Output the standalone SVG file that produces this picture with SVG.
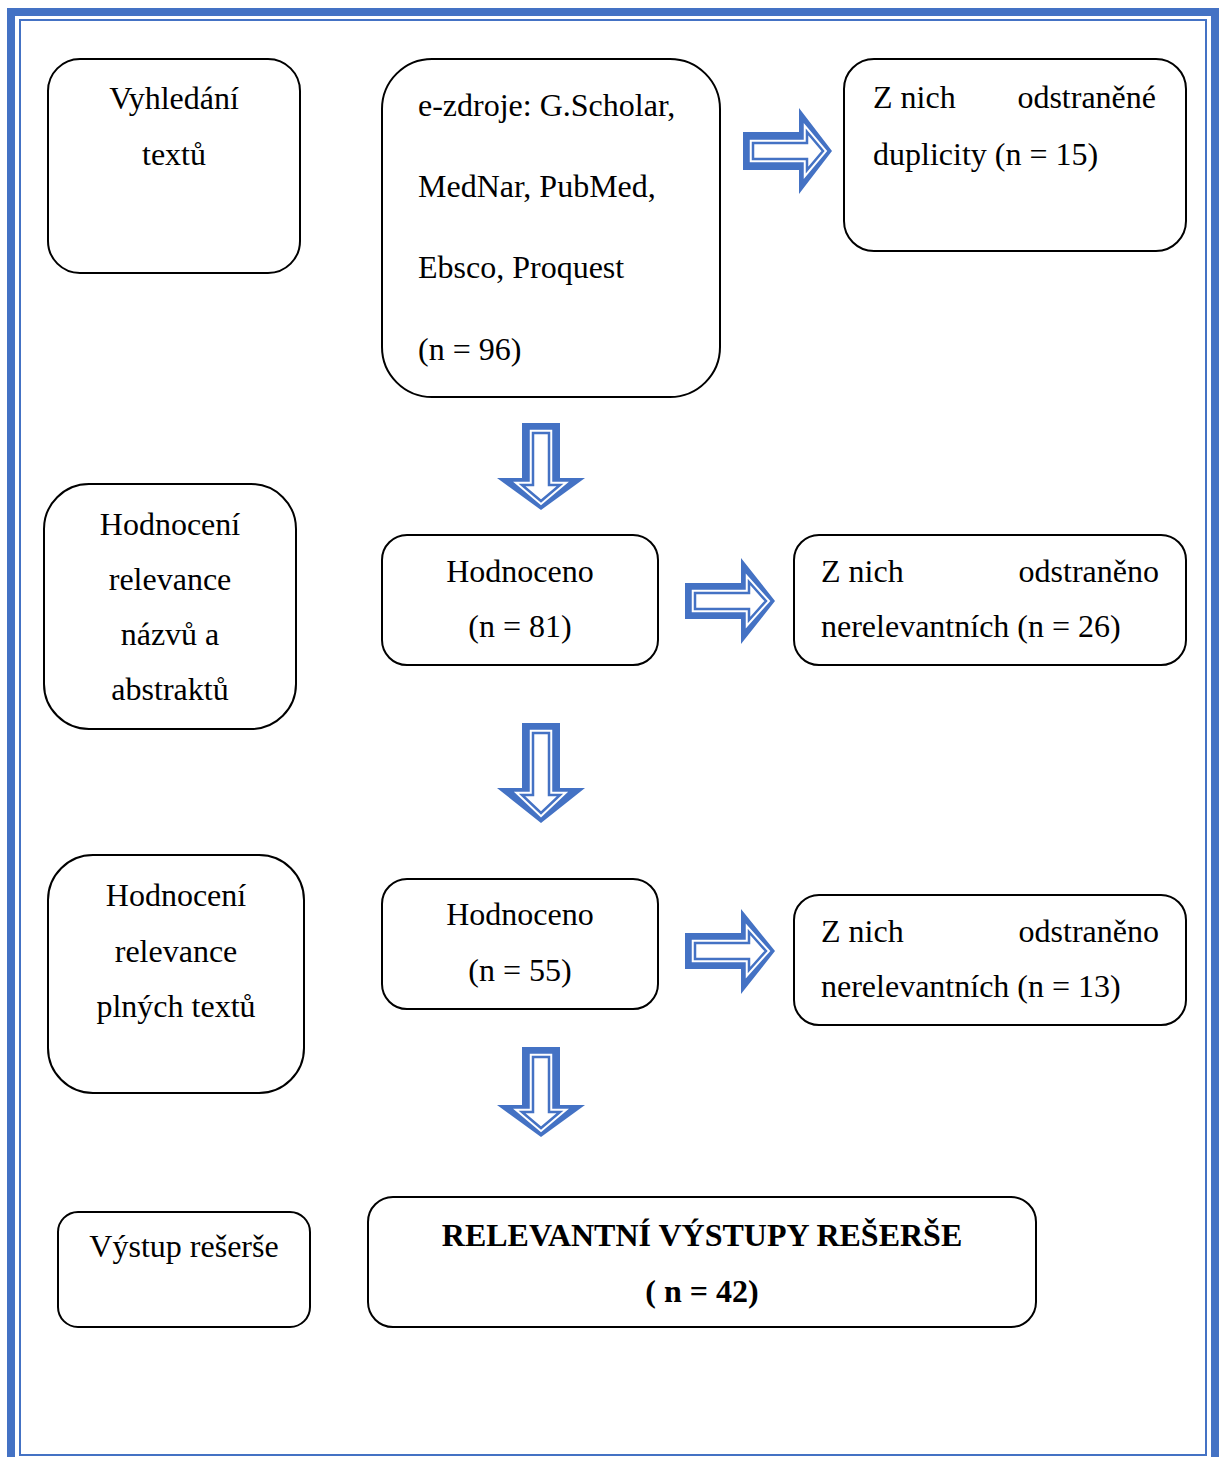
<svg xmlns="http://www.w3.org/2000/svg" width="1219" height="1457" viewBox="0 0 1219 1457">
<style>
.box{fill:#fff;stroke:#000;stroke-width:2}
.t{font-family:"Liberation Serif","Times New Roman",serif;font-size:32px;fill:#000}
.c{text-anchor:middle}
.e{text-anchor:end}
.b{font-weight:bold}
.ao{fill:#4472C4}
.ah{fill:none;stroke:#fff;stroke-width:6.5;stroke-linejoin:miter}
.ai{fill:#fff;stroke:#4472C4;stroke-width:2.5;stroke-linejoin:miter}
</style>
<rect x="0" y="0" width="1219" height="1457" fill="#fff"/>
<g id="frame">
<rect x="11" y="12" width="1204" height="1460" fill="none" stroke="#4472C4" stroke-width="8"/>
<rect x="20" y="20" width="1186" height="1435" fill="none" stroke="#4472C4" stroke-width="2"/>
</g>
<g id="connectors">
<g id="arrow-r1">
<path class="ao" d="M743,132 H799 V108 L832,151 L799,194 V170 H743 Z"/>
<path class="ah" d="M753,143 H807 V132 L823,151 L807,170 V159 H753 Z"/>
<path class="ai" d="M753,143 H807 V132 L823,151 L807,170 V159 H753 Z"/>
</g>
<g id="arrow-d1">
<path class="ao" d="M522,423 H560 V478 H585 L541,510 L497,478 H522 Z"/>
<path class="ah" d="M533,433 H549 V485 H560 L541,501 L522,485 H533 Z"/>
<path class="ai" d="M533,433 H549 V485 H560 L541,501 L522,485 H533 Z"/>
</g>
<g id="arrow-r2">
<path class="ao" d="M685,583 H741 V558 L775,601 L741,644 V619 H685 Z"/>
<path class="ah" d="M695,593 H749 V582 L766,601 L749,620 V609 H695 Z"/>
<path class="ai" d="M695,593 H749 V582 L766,601 L749,620 V609 H695 Z"/>
</g>
<g id="arrow-d2">
<path class="ao" d="M522,723 H560 V788 H585 L541,823 L497,788 H522 Z"/>
<path class="ah" d="M533,733 H549 V795 H560 L541,813 L522,795 H533 Z"/>
<path class="ai" d="M533,733 H549 V795 H560 L541,813 L522,795 H533 Z"/>
</g>
<g id="arrow-r3">
<path class="ao" d="M685,933 H741 V909 L775,951 L741,994 V969 H685 Z"/>
<path class="ah" d="M695,943 H749 V932 L766,951 L749,970 V959 H695 Z"/>
<path class="ai" d="M695,943 H749 V932 L766,951 L749,970 V959 H695 Z"/>
</g>
<g id="arrow-d3">
<path class="ao" d="M522,1047 H560 V1105 H585 L541,1137 L497,1105 H522 Z"/>
<path class="ah" d="M533,1057 H549 V1112 H560 L541,1128 L522,1112 H533 Z"/>
<path class="ai" d="M533,1057 H549 V1112 H560 L541,1128 L522,1112 H533 Z"/>
</g>
</g>
<g id="n-vyhledani">
<rect class="box" x="48" y="59" width="252" height="214" rx="32"/>
<text class="t c" x="174" y="109">Vyhledání</text>
<text class="t c" x="174" y="165">textů</text>
</g>
<g id="n-ezdroje">
<rect class="box" x="382" y="59" width="338" height="338" rx="50"/>
<text class="t" x="418" y="116">e-zdroje: G.Scholar,</text>
<text class="t" x="418" y="197">MedNar, PubMed,</text>
<text class="t" x="418" y="278">Ebsco, Proquest</text>
<text class="t" x="418" y="360">(n = 96)</text>
</g>
<g id="n-duplicity">
<rect class="box" x="844" y="59" width="342" height="192" rx="30"/>
<text class="t" x="873" y="108">Z nich</text>
<text class="t e" x="1156" y="108">odstraněné</text>
<text class="t" x="873" y="165">duplicity (n = 15)</text>
</g>
<g id="n-hodnoceni-nazvu">
<rect class="box" x="44" y="484" width="252" height="245" rx="45"/>
<text class="t c" x="170" y="535">Hodnocení</text>
<text class="t c" x="170" y="590">relevance</text>
<text class="t c" x="170" y="645">názvů a</text>
<text class="t c" x="170" y="700">abstraktů</text>
</g>
<g id="n-hodnoceno-81">
<rect class="box" x="382" y="535" width="276" height="130" rx="25"/>
<text class="t c" x="520" y="582">Hodnoceno</text>
<text class="t c" x="520" y="637">(n = 81)</text>
</g>
<g id="n-odstraneno-26">
<rect class="box" x="794" y="535" width="392" height="130" rx="25"/>
<text class="t" x="821" y="582">Z nich</text>
<text class="t e" x="1159" y="582">odstraněno</text>
<text class="t" x="821" y="637">nerelevantních (n = 26)</text>
</g>
<g id="n-hodnoceni-plnych">
<rect class="box" x="48" y="855" width="256" height="238" rx="45"/>
<text class="t c" x="176" y="906">Hodnocení</text>
<text class="t c" x="176" y="962">relevance</text>
<text class="t c" x="176" y="1017">plných textů</text>
</g>
<g id="n-hodnoceno-55">
<rect class="box" x="382" y="879" width="276" height="130" rx="25"/>
<text class="t c" x="520" y="925">Hodnoceno</text>
<text class="t c" x="520" y="981">(n = 55)</text>
</g>
<g id="n-odstraneno-13">
<rect class="box" x="794" y="895" width="392" height="130" rx="25"/>
<text class="t" x="821" y="942">Z nich</text>
<text class="t e" x="1159" y="942">odstraněno</text>
<text class="t" x="821" y="997">nerelevantních (n = 13)</text>
</g>
<g id="n-vystup">
<rect class="box" x="58" y="1212" width="252" height="115" rx="20"/>
<text class="t c" x="184" y="1257">Výstup rešerše</text>
</g>
<g id="n-relevantni">
<rect class="box" x="368" y="1197" width="668" height="130" rx="25"/>
<text class="t c b" x="702" y="1246">RELEVANTNÍ VÝSTUPY REŠERŠE</text>
<text class="t c b" x="702" y="1302">( n = 42)</text>
</g>
</svg>
